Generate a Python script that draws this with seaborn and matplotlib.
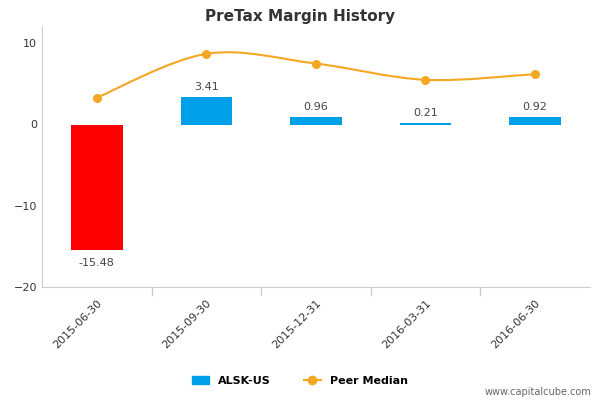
import matplotlib
matplotlib.use("Agg")
import matplotlib.pyplot as plt
import seaborn as sns
import numpy as np
import pandas as pd
from matplotlib.path import Path
from matplotlib.patches import PathPatch
from matplotlib.lines import Line2D
from matplotlib.patches import Patch

dates = ["2015-06-30", "2015-09-30", "2015-12-31", "2016-03-31", "2016-06-30"]
company = [-15.48, 3.41, 0.96, 0.21, 0.92]
peer = [3.3, 8.7, 7.5, 5.5, 6.2]
labels = ["-15.48", "3.41", "0.96", "0.21", "0.92"]

df = pd.DataFrame({"date": dates, "val": company})
fig = plt.figure(figsize=(6, 4), dpi=100)
ax = fig.add_axes([0.07, 0.2825, 0.913, 0.65])
colors = ["#ff0000" if v < 0 else "#00a0e8" for v in company]
sns.barplot(data=df, x="date", y="val", hue="date", palette=colors, legend=False,
            width=0.47, ax=ax, saturation=1)

x = np.arange(len(dates))
y = np.array(peer)
# smooth curve (Catmull-Rom to Bezier)
verts = [(x[0], y[0])]
codes = [Path.MOVETO]
for i in range(len(x) - 1):
    p0 = (x[i-1], y[i-1]) if i > 0 else (x[i], y[i])
    p1 = (x[i], y[i]); p2 = (x[i+1], y[i+1])
    p3 = (x[i+2], y[i+2]) if i + 2 < len(x) else p2
    c1 = (p1[0] + (p2[0]-p0[0])/6, p1[1] + (p2[1]-p0[1])/6)
    c2 = (p2[0] - (p3[0]-p1[0])/6, p2[1] - (p3[1]-p1[1])/6)
    verts += [c1, c2, p2]; codes += [Path.CURVE4]*3
ax.add_patch(PathPatch(Path(verts, codes), fill=False, edgecolor="#f5a623", lw=1.5, zorder=3))
ax.scatter(x, y, color="#f5a623", s=30, zorder=4)

for i, (v, t) in enumerate(zip(company, labels)):
    if v < 0:
        ax.text(i, v - 1.0, t, ha="center", va="top", fontsize=8, color="#444444")
    else:
        ax.text(i, max(v, 0) + 0.6, t, ha="center", va="bottom", fontsize=8, color="#444444")

ax.set_ylim(-20, 12)
ax.set_xlim(-0.5, 4.5)
ax.set_yticks([-20, -10, 0, 10])
ax.tick_params(axis="y", length=0, labelsize=8, colors="#333333")
ax.set_xticks(x)
ax.set_xticklabels(dates, rotation=45, ha="right", rotation_mode="anchor", fontsize=8, color="#333333")
ax.tick_params(axis="x", length=0, pad=8)
for b in np.arange(0.5, 4.5, 1):
    ax.plot([b, b], [-20, -21], color="#cccccc", lw=1, clip_on=False)
ax.set_xlabel(""); ax.set_ylabel("")
for s in ["top", "right"]:
    ax.spines[s].set_visible(False)
for s in ["left", "bottom"]:
    ax.spines[s].set_color("#cccccc")
ax.set_facecolor("white")

fig.text(0.5, 0.96, "PreTax Margin History", ha="center", va="center", fontsize=11,
         fontweight="bold", color="#333333")
handles = [Patch(color="#00a0e8", label="ALSK-US"),
           Line2D([0], [0], color="#f5a623", marker="o", lw=1.5, label="Peer Median")]
fig.legend(handles=handles, loc="center", bbox_to_anchor=(0.5, 0.047), ncol=2, frameon=False,
           prop={"size": 8, "weight": "bold"}, handlelength=1.5, columnspacing=3)
fig.text(0.985, 0.02, "www.capitalcube.com", ha="right", va="center", fontsize=7, color="#666666")
fig.savefig("out.png", dpi=100)
